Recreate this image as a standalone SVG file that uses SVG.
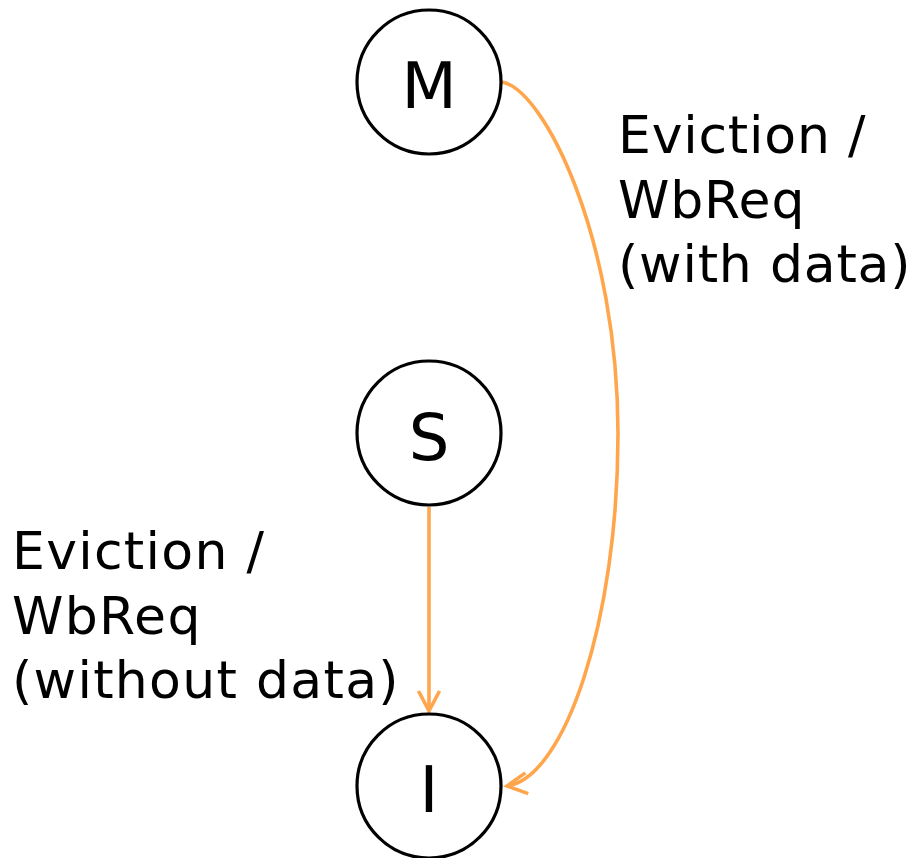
<svg xmlns="http://www.w3.org/2000/svg" width="916" height="858" viewBox="0 0 916 858">
<style>
.node circle{fill:#fff;stroke:#000;stroke-width:3.2}
.node text{font-family:"DejaVu Sans",Verdana,sans-serif;font-size:64px;text-anchor:middle;fill:#000}
.lbl{font-family:"DejaVu Sans",Verdana,sans-serif;font-size:52px;letter-spacing:1.3px;fill:#000}
.lbl.r{letter-spacing:0.8px}
.edge{fill:none;stroke:#FFA64D;stroke-width:3.6}
</style>
<defs>
<marker id="arr" markerUnits="userSpaceOnUse" markerWidth="30" markerHeight="30" viewBox="-25 -15 30 30" refX="0" refY="0" orient="auto" overflow="visible">
<path d="M-20,-10.5 L0,0 L-20,10.5" fill="none" stroke="#FFA64D" stroke-width="3.6"/>
</marker>
</defs>
<rect width="916" height="858" fill="#fff"/>
<g id="connectors">
<path class="edge" d="M429,507 L429,711" marker-end="url(#arr)"/>
<path class="edge" d="M502,82 C545,90 618,240 618,434 C618,620 565,778 507,786" marker-end="url(#arr)"/>
<text class="lbl r" x="618" y="153">Eviction /</text>
<text class="lbl r" x="618" y="218">WbReq</text>
<text class="lbl r" x="618" y="282">(with data)</text>
<text class="lbl" x="12" y="569">Eviction /</text>
<text class="lbl" x="12" y="634">WbReq</text>
<text class="lbl" x="12" y="698">(without data)</text>
</g>
<g id="node-M" class="node"><circle cx="429" cy="82" r="72"/><text x="429" y="108">M</text></g>
<g id="node-S" class="node"><circle cx="429" cy="433" r="72"/><text x="429" y="460">S</text></g>
<g id="node-I" class="node"><circle cx="429" cy="786" r="72"/><text x="429" y="812">I</text></g>
</svg>
